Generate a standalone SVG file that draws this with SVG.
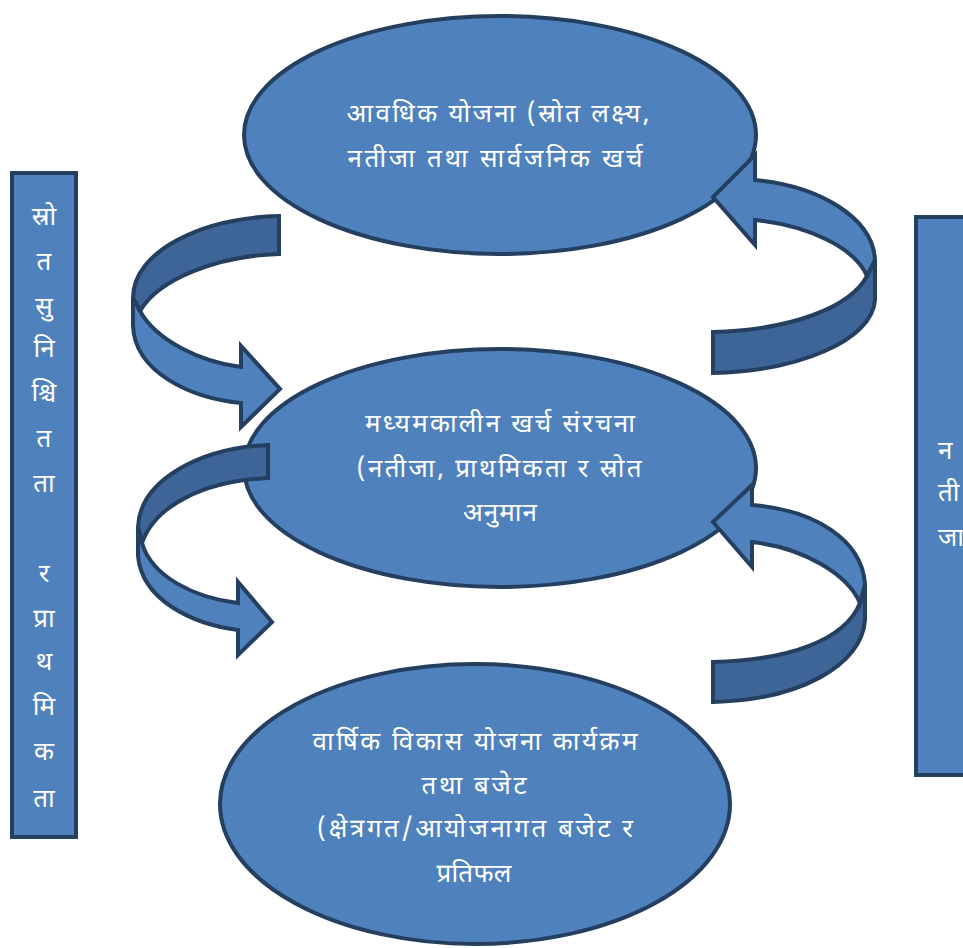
<svg xmlns="http://www.w3.org/2000/svg" width="963" height="948" viewBox="0 0 963 948">
<style>
.shape{fill:#4F81BD;stroke:#243F60;stroke-width:4;stroke-linejoin:miter}
.back{fill:#3E6598;stroke:#243F60;stroke-width:4;stroke-linejoin:miter}
.front{fill:#4F81BD;stroke:#243F60;stroke-width:4;stroke-linejoin:miter}
text{fill:#FFFFFF;font-family:"Noto Sans Devanagari","Lohit Devanagari","Noto Sans","Noto Sans CJK SC",sans-serif;font-size:26px;text-anchor:middle}
</style>
<rect width="963" height="948" fill="#FFFFFF"/>
<g id="left-bar">
<rect class="shape" x="12" y="173" width="64" height="664"/>
<text x="44" y="225">स्रो</text>
<text x="44" y="270">त</text>
<text x="44" y="315">सु</text>
<text x="44" y="357">नि</text>
<text x="44" y="401">श्चि</text>
<text x="44" y="447">त</text>
<text x="44" y="492">ता</text>
<text x="44" y="582">र</text>
<text x="44" y="627">प्रा</text>
<text x="44" y="670">थ</text>
<text x="44" y="715">मि</text>
<text x="44" y="760">क</text>
<text x="44" y="807">ता</text>
</g>
<g id="right-bar">
<rect class="shape" x="916" y="217" width="60" height="558"/>
<text x="938" y="459" style="text-anchor:start">न</text>
<text x="938" y="501" style="text-anchor:start">ती</text>
<text x="938" y="546" style="text-anchor:start">जा</text>
</g>
<g id="node-top">
<ellipse class="shape" cx="500" cy="135" rx="256" ry="119"/>
<text x="498" y="122" textLength="303" lengthAdjust="spacing">आवधिक योजना (स्रोत लक्ष्य,</text>
<text x="495" y="167" textLength="295" lengthAdjust="spacing">नतीजा तथा सार्वजनिक खर्च</text>
</g>
<g id="node-middle">
<ellipse class="shape" cx="500" cy="468" rx="256" ry="119"/>
<text x="500" y="432" textLength="270" lengthAdjust="spacing">मध्यमकालीन खर्च संरचना</text>
<text x="499" y="477" textLength="285" lengthAdjust="spacing">(नतीजा, प्राथमिकता र स्रोत</text>
<text x="500" y="521" textLength="74" lengthAdjust="spacing">अनुमान</text>
</g>
<g id="node-bottom">
<ellipse class="shape" cx="475" cy="804" rx="255" ry="140"/>
<text x="475" y="750" textLength="325" lengthAdjust="spacing">वार्षिक विकास योजना कार्यक्रम</text>
<text x="474" y="794" textLength="105" lengthAdjust="spacing">तथा बजेट</text>
<text x="475" y="837" textLength="316" lengthAdjust="spacing">(क्षेत्रगत/आयोजनागत बजेट र</text>
<text x="474" y="882" textLength="75" lengthAdjust="spacing">प्रतिफल</text>
</g>
<g id="connectors">
<path class="back" d="M279,216 L279,254 C215,256 158,280 140,311 L133,298 C133,252 200,218 279,216 Z"/>
<path class="front" d="M133,298 L133,326 C135,372 190,398 241,403 L241,427 L280,389 L241,346 L241,367 C200,362 156,340 140,311 Z"/>
<path class="back" d="M713,332 L713,373 C800,371 872,340 875,300 L875,260 L867,276 C850,308 790,330 713,332 Z"/>
<path class="front" d="M875,260 C873,218 820,186 755,180 L755,155 L713,197 L755,245 L755,220 C810,226 855,248 867,276 Z"/>
<path class="back" d="M268,445 L268,478 C205,481 155,505 142,543 L138,527 C140,480 200,448 268,445 Z"/>
<path class="front" d="M138,527 L138,556 C142,600 192,624 238,630 L238,655 L272,622 L238,582 L238,603 C195,598 152,577 142,543 Z"/>
<path class="back" d="M713,662 L713,702 C800,700 862,665 865,620 L865,584 L860,603 C845,640 790,660 713,662 Z"/>
<path class="front" d="M865,584 C862,540 815,510 752,505 L752,485 L713,522 L752,567 L752,542 C805,548 848,575 860,603 Z"/>
</g>
</svg>
